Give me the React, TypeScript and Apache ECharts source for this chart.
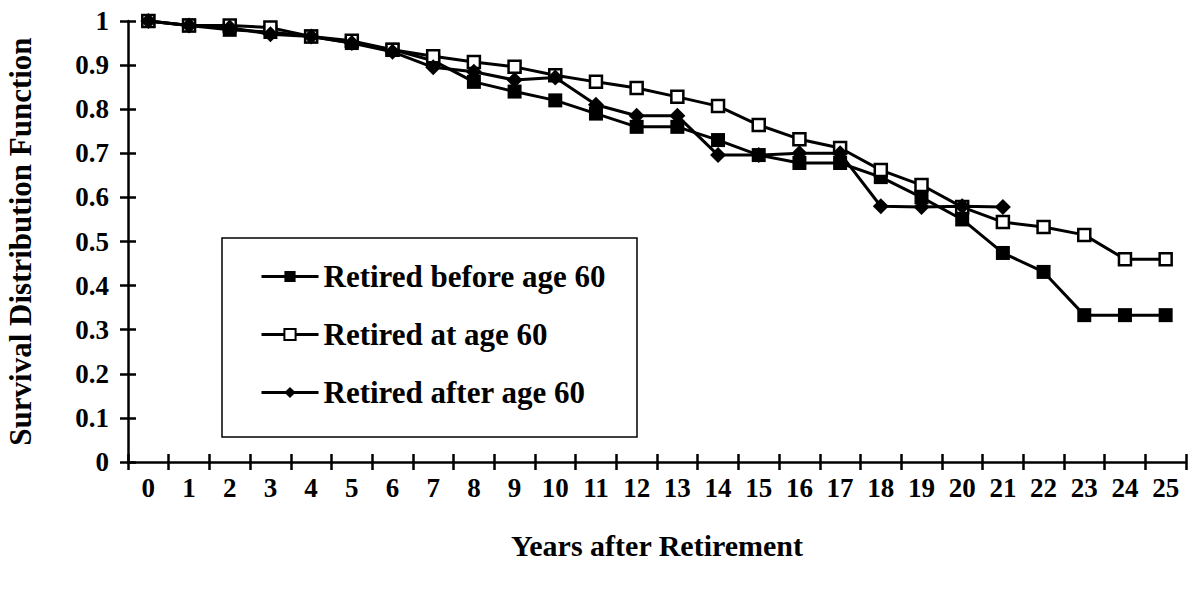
import React, { useEffect, useRef } from "react";
import * as echarts from "echarts";

const years = ["0","1","2","3","4","5","6","7","8","9","10","11","12","13","14","15","16","17","18","19","20","21","22","23","24","25"];
const beforeAge60 = [1, 0.99, 0.98, 0.975, 0.965, 0.95, 0.935, 0.91, 0.862, 0.84, 0.82, 0.79, 0.76, 0.76, 0.73, 0.696, 0.678, 0.678, 0.646, 0.6, 0.55, 0.474, 0.431, 0.333, 0.333, 0.333];
const atAge60 = [1, 0.99, 0.99, 0.985, 0.965, 0.955, 0.935, 0.92, 0.907, 0.896, 0.877, 0.862, 0.848, 0.828, 0.807, 0.764, 0.732, 0.712, 0.662, 0.628, 0.578, 0.544, 0.533, 0.515, 0.46, 0.46];
const afterAge60 = [1, 0.99, 0.985, 0.97, 0.965, 0.95, 0.93, 0.895, 0.885, 0.866, 0.872, 0.81, 0.785, 0.785, 0.696, 0.696, 0.7, 0.7, 0.58, 0.578, 0.58, 0.578];
const seriesNames = ["Retired before age 60", "Retired at age 60", "Retired after age 60"];

const FONT = "Liberation Serif";

export default function App() {
  const ref = useRef<HTMLDivElement>(null);
  useEffect(() => {
    if (!ref.current) return;
    const chart = echarts.init(ref.current, null, { renderer: "svg" });
    const axisLine = { lineStyle: { color: "#000", width: 2.5 } };
    const labelStyle = { color: "#000", fontFamily: FONT, fontWeight: "bold" as const, fontSize: 27 };
    chart.setOption({
      animation: false,
      backgroundColor: "#fff",
      grid: { left: 128, right: 9, top: 21, bottom: 128, containLabel: false, outerBoundsMode: "none" },
      legend: {
        orient: "vertical",
        left: 255,
        top: 256,
        itemWidth: 57,
        itemHeight: 14,
        itemGap: 27,
        data: seriesNames,
        lineStyle: { width: 3 },
        textStyle: { color: "#000", fontFamily: FONT, fontWeight: "bold", fontSize: 31 },
        selectedMode: false,
      },
      graphic: [
        {
          type: "rect",
          z: -1,
          shape: { x: 222, y: 238, width: 415, height: 199 },
          style: { fill: "#fff", stroke: "#000", lineWidth: 1.5 },
        },
      ],
      xAxis: [
        {
          type: "category",
          data: years,
          boundaryGap: true,
          name: "Years after Retirement",
          nameLocation: "middle",
          nameGap: 68,
          nameTextStyle: { color: "#000", fontFamily: FONT, fontWeight: "bold", fontSize: 30 },
          axisLine,
          axisTick: { show: true, interval: 0, length: 8, lineStyle: { color: "#000", width: 2.5 } },
          axisLabel: { ...labelStyle, interval: 0, margin: 12 },
          splitLine: { show: false },
        },
        {
          type: "category",
          data: years,
          boundaryGap: true,
          position: "bottom",
          axisLine: { show: false },
          axisTick: { show: true, inside: true, interval: 0, length: 8, lineStyle: { color: "#000", width: 2.5 } },
          axisLabel: { show: false },
          splitLine: { show: false },
        },
      ],
      yAxis: [
        {
          type: "value",
          min: 0,
          max: 1,
          interval: 0.1,
          name: "Survival Distribution Function",
          nameLocation: "middle",
          nameGap: 92,
          nameTextStyle: { color: "#000", fontFamily: FONT, fontWeight: "bold", fontSize: 31 },
          axisLine: { show: true, ...axisLine },
          axisTick: { show: true, length: 8, lineStyle: { color: "#000", width: 2.5 } },
          axisLabel: {
            ...labelStyle,
            margin: 19,
            formatter: (v: number) => (v === 0 ? "0" : v === 1 ? "1" : v.toFixed(1)),
          },
          splitLine: { show: false },
        },
        {
          type: "value",
          min: 0,
          max: 1,
          interval: 0.1,
          position: "left",
          axisLine: { show: false },
          axisTick: { show: true, inside: true, length: 8, lineStyle: { color: "#000", width: 2.5 } },
          axisLabel: { show: false },
          splitLine: { show: false },
        },
      ],
      series: [
        {
          name: seriesNames[0],
          type: "line",
          data: beforeAge60,
          symbol: "rect",
          symbolSize: 14,
          lineStyle: { color: "#000", width: 3 },
          itemStyle: { color: "#000", borderColor: "#000", borderWidth: 0 },
          z: 3,
        },
        {
          name: seriesNames[1],
          type: "line",
          data: atAge60,
          symbol: "rect",
          symbolSize: 12,
          showAllSymbol: true,
          lineStyle: { color: "#000", width: 3 },
          itemStyle: { color: "#fff", borderColor: "#000", borderWidth: 2.5 },
          z: 4,
        },
        {
          name: seriesNames[2],
          type: "line",
          data: afterAge60,
          symbol: "diamond",
          symbolSize: 16,
          lineStyle: { color: "#000", width: 3 },
          itemStyle: { color: "#000", borderColor: "#000", borderWidth: 0 },
          z: 5,
        },
      ],
    });
    return () => chart.dispose();
  }, []);
  return <div ref={ref} style={{ position: "fixed", left: 0, top: 0, width: 1195, height: 590 }} />;
}
